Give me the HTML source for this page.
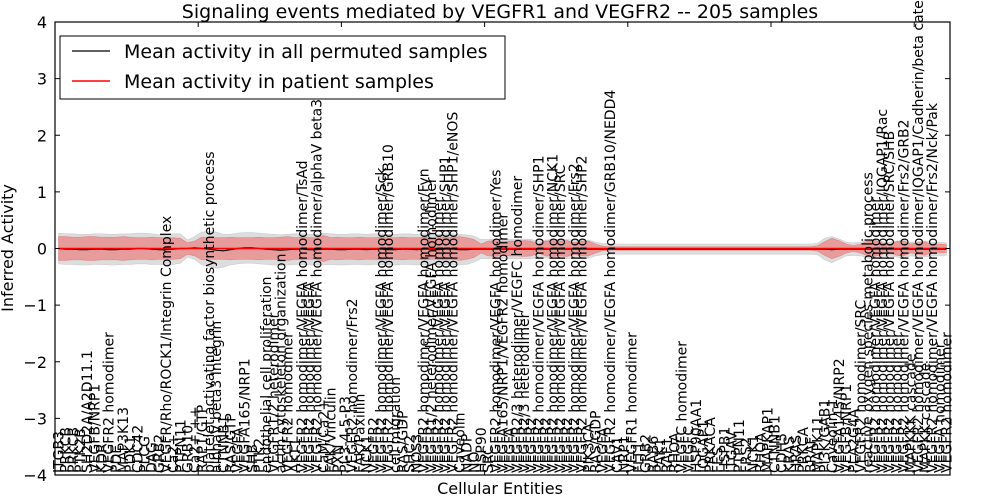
<!DOCTYPE html>
<html><head><meta charset="utf-8"><style>
html,body{margin:0;padding:0;background:#fff;}
svg{display:block;font-family:"DejaVu Sans","Liberation Sans",sans-serif;}
</style></head><body>
<svg id="chart" width="1000" height="500" viewBox="0 0 1000 500" xmlns="http://www.w3.org/2000/svg">
<rect x="0" y="0" width="1000" height="500" fill="#fff"/>
<text x="500" y="18" font-size="19" text-anchor="middle">Signaling events mediated by VEGFR1 and VEGFR2 -- 205 samples</text>
<g id="bands"></g>
<g id="lines"></g>
<g id="xlabels"></g>
<g id="axes"></g>
<text transform="translate(13,248) rotate(-90)" font-size="16" text-anchor="middle">Inferred Activity</text>
<text x="500" y="494" font-size="16" text-anchor="middle">Cellular Entities</text>
<g>
<rect x="60" y="36" width="445" height="63" fill="#fff" stroke="#000" stroke-width="1"/>
<line x1="72" y1="51" x2="110" y2="51" stroke="#000" stroke-width="1.2"/>
<text x="124" y="58" font-size="19">Mean activity in all permuted samples</text>
<line x1="72" y1="81" x2="110" y2="81" stroke="#f00" stroke-width="1.5"/>
<text x="124" y="88" font-size="19">Mean activity in patient samples</text>
</g>
</svg>
<script>
const labels = ["ITGB3","PRKCB","PRKCB","PTK2B","SH2D2A/A2D11.1","VEGFB/NRP1","KDR","VEGFR2 homodimer","PDE","MAP3K13",
"PDK1","CDC42","PLCG","DAG","GRB2","VEGFR/Rho/ROCK1/Integrin Complex","Ca2+","PTPN11","GRB10","Ca2+ ++",
"RAP1/GTP","platelet activating factor biosynthetic process","alphaV beta3 Integrin","CTNNB1","RAS/GTP","VEGFA","VEGFA165/NRP1","SHB","PTK2","endothelial cell proliferation",
"VEGFR1/2 heterodimer","actin cytoskeleton organization","VEGFR2 homodimer","AKT1","VEGFR2 homodimer/VEGFA homodimer/TsAd","VEGFR2 homodimer/VEGFA","VEGFR2 homodimer/VEGFA homodimer/alphaV beta3","CaM/Ca2+","FAK/Vinculin","PXN",
"PI-3-4-5-P3","VEGFR2 homodimer/Frs2","FAK/Paxillin","NCK1","VEGFR2","VEGFR2 homodimer/VEGFA homodimer/Sck","VEGFR2 homodimer/VEGFA homodimer/GRB10","cell migration","RAS/GDP","SHC2",
"NOS3","VEGFR2 homodimer/VEGFA homodimer/Fyn","VEGFR1/2 heterodimer/VEGFA homodimer","VEGFR2 homodimer/VEGFA homodimer","VEGFR2 homodimer/VEGFA homodimer/SHP1","VEGFR2 homodimer/VEGFA homodimer/SHP1/eNOS","Caveolin","NADP","NO","HSP90",
"SRC","VEGFR2 homodimer/VEGFA homodimer/Yes","VEGFA165/NRP1/VEGFR2 homodimer","VEGFA","VEGFR2/3 heterodimer/VEGFC homodimer","VEGFR2/3 heterodimer","VEGFR2","VEGFR2 homodimer/VEGFA homodimer/SHP1","VEGFR2","VEGFR2 homodimer/VEGFA homodimer/NCK1",
"VEGFR2 homodimer/VEGFA homodimer/SRC","VEGFR2","VEGFR2 homodimer/VEGFA homodimer/Frs2","VEGFR2 homodimer/VEGFA homodimer/SHP2","PIK3CA","RAS/GDP","VEGFA","VEGFR2 homodimer/VEGFA homodimer/GRB10/NEDD4","CAV1","NRP1",
"VEGFR1 homodimer","FLT1","GRB2","RAB6","PAK1","RAF1","RHOA","VEGFC homodimer","VEGFC","HSP90AA1",
"IQGAP1","PRKACA","FES","HSPB1","ITGAV","PTPN11","FRS2","NCK1","RHOA","MAPKAP1",
"CTNNB1","CDH5","KRAS","HRAS","PRKCA","BRAF","MAPK11","PI3K/GAB1","Caveolin-1","VEGFA145/NRP2",
"VEGFB/NRP1","PLA2G4A","VEGFR2 homodimer/SRC","reactive oxygen species metabolic process","VEGFR2 homodimer/VEGFA homodimer","VEGFR2 homodimer/VEGFA homodimer/IQGAP1/Rac","VEGFR2 homodimer/VEGFA homodimer/SRC/SHB","VEGFR2 homodimer","VEGFR2 homodimer/VEGFA homodimer/Frs2/GRB2","MAPKKK cascade",
"VEGFR2 homodimer/VEGFA homodimer/IQGAP1/Cadherin/beta catenin","MAPKK cascade","VEGFR2 homodimer/VEGFA homodimer/Frs2/Nck/Pak","VEGFA homodimer","VEGFR2 homodimer"];
const permutedMean = [0,-0.01,-0.01,-0.02,-0.02,-0.01,-0.01,-0.02,-0.02,-0.01,
-0.01,0,0,-0.01,-0.02,-0.02,-0.01,0,0,0.01,
0,-0.01,-0.03,-0.04,-0.02,0,0.01,0.01,0,-0.01,
-0.02,-0.03,-0.02,-0.01,-0.01,-0.02,-0.02,-0.01,-0.01,-0.02,
-0.02,-0.01,-0.01,-0.02,-0.01,-0.01,-0.02,-0.02,-0.01,-0.01,
-0.02,-0.01,-0.01,-0.02,-0.01,-0.01,-0.02,-0.02,-0.01,-0.01,
-0.01,-0.01,-0.01,-0.01,-0.01,-0.01,-0.01,-0.01,-0.01,-0.01,
-0.01,-0.01,-0.01,-0.01,-0.01,-0.01,-0.01,-0.01,-0.01,-0.01,
-0.01,-0.01,-0.01,-0.01,-0.01,-0.01,-0.01,-0.01,-0.01,-0.01,
-0.01,-0.01,-0.01,-0.01,-0.01,-0.01,-0.01,-0.01,-0.01,-0.01,
-0.01,-0.01,-0.01,-0.01,-0.01,-0.01,-0.01,-0.01,-0.02,-0.01,
-0.01,-0.01,-0.01,-0.01,-0.01,-0.01,-0.01,-0.01,-0.01,-0.01,
-0.01,-0.01,-0.01,-0.01,-0.01];
const patientMean = [0,0,0,0,0,0,0,0,0,0, 0,0,0,0,0,0,0,0,0,0, 0,0,0,0,0,0,0,0,0,0, 0,0,0,0,0,0,0,0,0,0, 0,0,0,0,0,0,0,0,0,0,
0,0,0,0,0,0,0,0,0,0, 0,0,0,0,0,0,0,0,0,0, 0,0,0,0,0,0,0,0,0,0, 0,0,0,0,0,0,0,0,0,0, 0,0,0,0,0,0,0,0,0,0,
0,0,0,0,0,0,0,0,0,0, 0,0,0,0,0,0,0,0,0,0, 0,0,0,0,0];
const patientSpread = [0.21,0.21,0.2,0.2,0.21,0.21,0.2,0.2,0.2,0.21,
0.2,0.19,0.19,0.2,0.19,0.19,0.19,0.18,0.1,0.13,
0.2,0.19,0.19,0.19,0.2,0.19,0.19,0.19,0.2,0.19,
0.19,0.2,0.21,0.19,0.2,0.19,0.19,0.23,0.19,0.2,
0.19,0.19,0.2,0.19,0.19,0.2,0.19,0.19,0.2,0.19,
0.19,0.2,0.19,0.19,0.2,0.19,0.21,0.19,0.16,0.08,
0.13,0.14,0.12,0.13,0.13,0.14,0.13,0.08,0.13,0.14,
0.13,0.14,0.1,0.13,0.13,0.08,0.04,0.03,0.03,0.03,
0.03,0.03,0.03,0.03,0.03,0.03,0.03,0.03,0.03,0.03,
0.03,0.03,0.03,0.03,0.03,0.03,0.03,0.03,0.03,0.03,
0.03,0.03,0.03,0.03,0.03,0.03,0.05,0.12,0.18,0.14,
0.08,0.05,0.08,0.13,0.14,0.1,0.07,0.12,0.13,0.08,
0.1,0.12,0.07,0.08,0.07];
const permutedSpread = [0.27,0.27,0.27,0.27,0.27,0.27,0.27,0.27,0.27,0.27,
0.27,0.27,0.27,0.27,0.26,0.26,0.27,0.26,0.15,0.2,
0.29,0.31,0.32,0.29,0.27,0.27,0.27,0.27,0.27,0.27,
0.27,0.27,0.27,0.27,0.27,0.27,0.27,0.28,0.27,0.27,
0.27,0.27,0.27,0.27,0.27,0.27,0.27,0.27,0.27,0.27,
0.27,0.27,0.27,0.27,0.27,0.27,0.27,0.26,0.23,0.17,
0.17,0.17,0.16,0.17,0.17,0.17,0.17,0.14,0.16,0.17,
0.17,0.17,0.15,0.16,0.16,0.12,0.1,0.09,0.09,0.09,
0.09,0.09,0.09,0.09,0.09,0.09,0.09,0.09,0.09,0.09,
0.09,0.09,0.09,0.09,0.09,0.09,0.09,0.09,0.09,0.09,
0.09,0.09,0.09,0.09,0.09,0.09,0.1,0.19,0.23,0.18,
0.12,0.11,0.12,0.16,0.16,0.13,0.12,0.14,0.16,0.12,
0.13,0.14,0.12,0.12,0.11];
const yTicks = [4,3,2,1,0,-1,-2,-3,-4];
const xTicks = [0,20,40,60,80,100,120];

const NS = "http://www.w3.org/2000/svg";
const L = 55, R = 950, T = 22, B = 475;
const N = labels.length;
const xScale = i => L + (i + 0.5) * (R - L) / N;
const xTickScale = v => L + v * (R - L) / N;
const yScale = v => (T + B) / 2 - v * (B - T) / 8;
function mk(tag, attrs, parent) {
  const e = document.createElementNS(NS, tag);
  for (const k in attrs) e.setAttribute(k, attrs[k]);
  parent.appendChild(e);
  return e;
}
function bandPath(mean, spread) {
  let d = "";
  for (let i = 0; i < N; i++) d += (i ? "L" : "M") + xScale(i).toFixed(1) + "," + yScale(mean[i] + spread[i]).toFixed(1);
  for (let i = N - 1; i >= 0; i--) d += "L" + xScale(i).toFixed(1) + "," + yScale(mean[i] - spread[i]).toFixed(1);
  return d + "Z";
}
function linePath(vals) {
  let d = "";
  for (let i = 0; i < N; i++) d += (i ? "L" : "M") + xScale(i).toFixed(1) + "," + yScale(vals[i]).toFixed(1);
  return d;
}
const bands = document.getElementById("bands");
const gb = mk("path", {d: bandPath(permutedMean, permutedSpread), fill: "#d9d9d9", "fill-opacity": "0.9", stroke: "#cccccc", "stroke-width": "0.6"}, bands);


const rb = mk("path", {d: bandPath(patientMean, patientSpread), fill: "#ee6f6f", "fill-opacity": "0.6", stroke: "#e05050", "stroke-opacity": "0.5", "stroke-width": "0.6"}, bands);



const lines = document.getElementById("lines");
const bl = mk("path", {d: linePath(permutedMean), fill: "none", stroke: "#000", "stroke-width": "1.2"}, lines);


const rl = mk("path", {d: linePath(patientMean), fill: "none", stroke: "#f00", "stroke-width": "1.5"}, lines);



const xl = document.getElementById("xlabels");
labels.forEach((lab, i) => {
  const t = mk("text", {transform: "translate(" + (xScale(i) + 5).toFixed(1) + "," + (B - 2) + ") rotate(-90)", "font-size": "14"}, xl);
  t.textContent = lab;
  
  
});

const ax = document.getElementById("axes");
const frame = mk("rect", {x: L, y: T, width: R - L, height: B - T, fill: "none", stroke: "#000", "stroke-width": "1.2"}, ax);


yTicks.forEach(v => {
  const y = yScale(v);
  mk("line", {x1: L, y1: y, x2: L + 5, y2: y, stroke: "#000"}, ax);
  mk("line", {x1: R, y1: y, x2: R - 5, y2: y, stroke: "#000"}, ax);
  const t = mk("text", {x: L - 8, y: y + 6, "font-size": "16", "text-anchor": "end"}, ax);
  t.textContent = v < 0 ? "\u2212" + Math.abs(v) : String(v);
  
  
});
xTicks.forEach(v => {
  const x = xTickScale(v);
  mk("line", {x1: x, y1: T, x2: x, y2: T + 5, stroke: "#000"}, ax);
  mk("line", {x1: x, y1: B, x2: x, y2: B - 5, stroke: "#000"}, ax);
});
</script>
</body></html>
